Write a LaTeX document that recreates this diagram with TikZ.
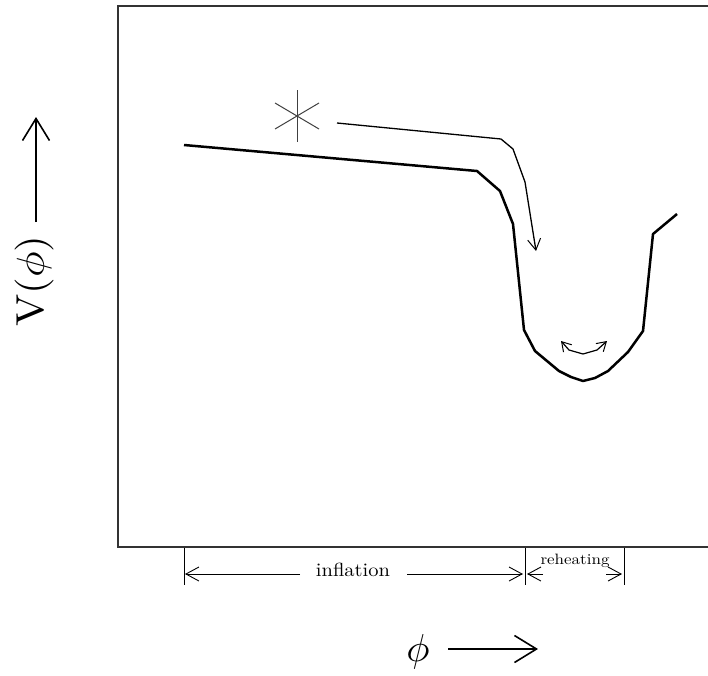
\documentclass[tikz,border=0pt]{standalone}
\usetikzlibrary{arrows.meta}
\begin{document}
\begin{tikzpicture}[x=1pt,y=-1pt,
  frame/.style={line width=1.1pt,black!80},
  pot/.style={line width=2.5pt,line join=round},
  roll/.style={line width=1.3pt,line join=round,-{Straight Barb[length=11pt,width=13pt,line width=1pt]}},
  starline/.style={line width=1pt,black!75},
  osc/.style={line width=1.2pt,{Straight Barb[length=9pt,width=11pt,line width=1pt]}-{Straight Barb[length=9pt,width=11pt,line width=1pt]}},
  tick/.style={line width=0.9pt},
  dimarr/.style={line width=0.9pt,-{Straight Barb[length=13pt,width=14pt,line width=0.9pt]}},
  bigarr/.style={line width=1.8pt,-{Straight Barb[length=22pt,width=27pt,line width=1.6pt]}},
  lab/.style={inner sep=0pt}]
\useasboundingbox (0,0) rectangle (708,675);
% frame
\draw[frame] (708,6) -- (118,6) -- (118,547) -- (708,547);
% potential
\draw[pot] (184,145) -- (477,171) -- (500,191) -- (513,224) -- (524,330) -- (535,351) -- (559,371) -- (571,377) -- (583,381) -- (595,378) -- (608,371) -- (628,352) -- (643,331) -- (653,234) -- (677,214);
% star
\coordinate (star) at (297,116);
\draw[starline] (star) ++(0,-26) -- ++(0,52);
\draw[starline] (star) ++(-22,-13) -- ++(44,26);
\draw[starline] (star) ++(-22,13) -- ++(44,-26);
% rolling path
\coordinate (r0) at (337,123);
\coordinate (r1) at (536,251);
\draw[roll] (r0) -- (501,139) -- (513,149) -- (525,182) -- (r1);
% oscillation
\coordinate (o0) at (561,341);
\coordinate (o1) at (607,341);
\draw[osc] (o0) -- (569,350) -- (583,354) -- (597,350) -- (o1);
% ticks
\coordinate (t1) at (184,548);
\coordinate (t2) at (525,548);
\coordinate (t3) at (624,548);
\draw[tick] (t1) -- ++(0,37);
\draw[tick] (t2) -- ++(0,37);
\draw[tick] (t3) -- ++(0,37);
% inflation
\coordinate (i0) at (300,574);
\coordinate (i1) at (407,574);
\draw[dimarr] (i0) -- (185,574);
\draw[dimarr] (i1) -- (523,574);
\node[lab] (infl) at (353,570) {\scalebox{2.05}[1.9]{inflation}};
% reheating
\draw[dimarr] (543,574) -- (527,574);
\draw[dimarr] (606,574) -- (622,574);
\node[lab] (reh) at (575,561) {\scalebox{1.7}[1.5]{reheating}};
% axis labels
\node[lab,rotate=90] (vlab) at (34,281) {\scalebox{4.3}[3.9]{V$(\phi)$}};
\coordinate (va) at (36,222);
\coordinate (vb) at (36,117);
\draw[bigarr] (va) -- (vb);
\node[lab] (plab) at (418,652) {\scalebox{3.9}{$\phi$}};
\coordinate (pa) at (448,649);
\coordinate (pb) at (538,649);
\draw[bigarr] (pa) -- (pb);
\end{tikzpicture}
\end{document}
